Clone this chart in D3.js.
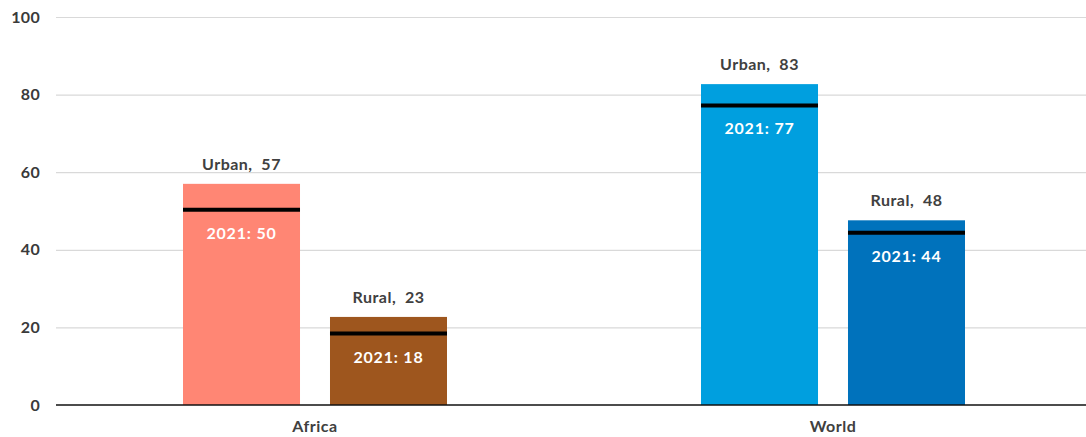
<!DOCTYPE html>
<html>
<head>
<meta charset="utf-8">
<script src="https://cdn.jsdelivr.net/npm/d3@7"></script>
<style>
  html, body { margin: 0; padding: 0; background: #fff; }
  svg { display: block; font-family: Lato, "Open Sans", sans-serif; }
</style>
</head>
<body>
<svg id="chart" width="1086" height="437"></svg>
<script>
// ---- data ----
const regions = ["Africa", "World"];
const areaTypes = ["Urban", "Rural"];
const values2023 = { Africa: [57, 22.7], World: [82.7, 47.6] };
const values2021 = { Africa: [50.3, 18.4], World: [77.2, 44.4] };
const yTicks = [0, 20, 40, 60, 80, 100];
const colors = { Africa: ["#FF8674", "#9E561E"], World: ["#009FDF", "#0072BC"] };

// ---- layout ----
const svg = d3.select("#chart");
const W = 1086, H = 437;
const mLeft = 56, mRight = 1092, mTop = 17, mBottom = 405;

const x0 = d3.scaleBand().domain(regions).range([mLeft, mRight]).padding(0);
const x1 = d3.scaleBand().domain(areaTypes).range([-132, 132]).paddingInner(0.204).paddingOuter(0);
const y = d3.scaleLinear().domain([0, 100]).range([mBottom, mTop]);

// gridlines
const yAxis = d3.axisLeft(y).tickValues(yTicks).tickSize(0).tickPadding(16);
const gy = svg.append("g").attr("transform", `translate(${mLeft},0)`).call(yAxis);
gy.select(".domain").remove();
gy.selectAll(".tick text")
  .attr("font-size", 16).attr("font-weight", 700).attr("fill", "#3a3a3a")
  .attr("letter-spacing", 0.3)
  .attr("font-family", "Lato, sans-serif");
gy.selectAll(".tick").append("line")
  .attr("x1", 0).attr("x2", W - mLeft)
  .attr("stroke", d => d === 0 ? "none" : "#d9d9d9").attr("stroke-width", 1.2);

// bars
const data = [];
regions.forEach(r => areaTypes.forEach((a, i) => {
  data.push({ region: r, type: a, v: values2023[r][i], v21: values2021[r][i], color: colors[r][i] });
}));

const bx = d => x0(d.region) + x0.bandwidth() / 2 + x1(d.type);

svg.append("g").selectAll("rect").data(data).join("rect")
  .attr("x", bx).attr("width", x1.bandwidth())
  .attr("y", d => y(d.v)).attr("height", d => y(0) - y(d.v))
  .attr("fill", d => d.color);

// 2021 markers
svg.append("g").selectAll("line").data(data).join("line")
  .attr("x1", bx).attr("x2", d => bx(d) + x1.bandwidth())
  .attr("y1", d => y(d.v21)).attr("y2", d => y(d.v21))
  .attr("stroke", "#000").attr("stroke-width", 4);

// top labels
svg.append("g").selectAll("text").data(data).join("text")
  .attr("x", d => bx(d) + x1.bandwidth() / 2)
  .attr("y", d => y(d.v) - 14)
  .attr("text-anchor", "middle")
  .attr("font-size", 16).attr("font-weight", 700).attr("fill", "#404040")
  .attr("letter-spacing", 0.5)
  .text(d => `${d.type},\u00a0 ${d3.format(".0f")(d.v)}`);

// inner labels
svg.append("g").selectAll("text").data(data).join("text")
  .attr("x", d => bx(d) + x1.bandwidth() / 2)
  .attr("y", d => y(d.v21) + 29)
  .attr("text-anchor", "middle")
  .attr("font-size", 16).attr("font-weight", 700).attr("fill", "#fff")
  .attr("letter-spacing", 0.8)
  .text(d => `2021:\u00a0${d3.format(".0f")(d.v21)}`);

// baseline + x axis
const xAxis = d3.axisBottom(x0).tickSize(0).tickPadding(16);
const gx = svg.append("g").attr("transform", `translate(0,${mBottom})`).call(xAxis);
gx.select(".domain").remove();
gx.selectAll(".tick text")
  .attr("font-size", 16).attr("font-weight", 700).attr("fill", "#404040")
  .attr("letter-spacing", 0.5)
  .attr("font-family", "Lato, sans-serif");
svg.append("line")
  .attr("x1", mLeft).attr("x2", W)
  .attr("y1", y(0)).attr("y2", y(0))
  .attr("stroke", "#111").attr("stroke-width", 1.5);
</script>
</body>
</html>
